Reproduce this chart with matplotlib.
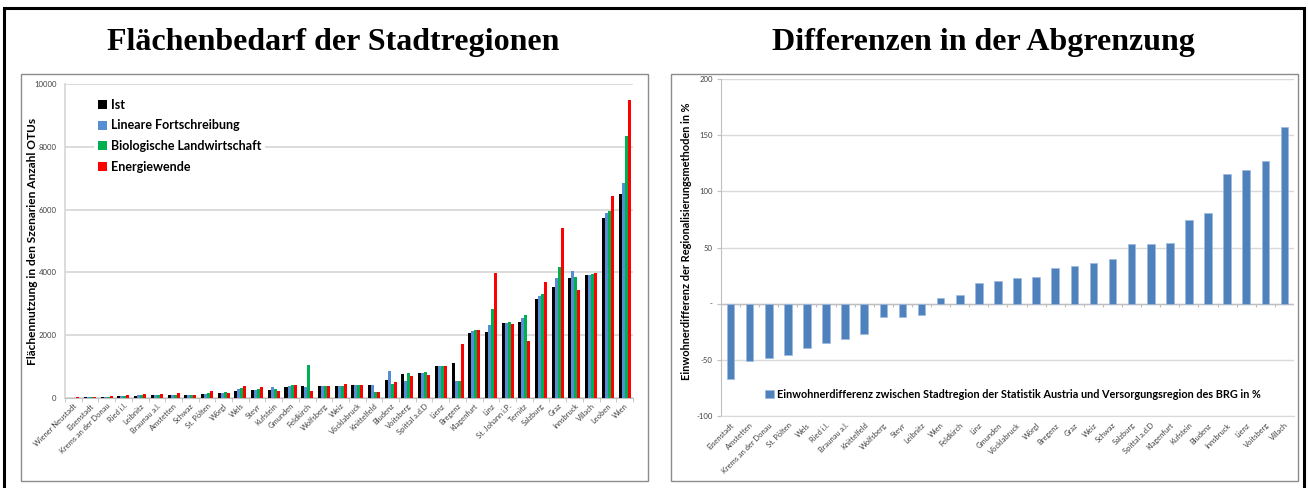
import matplotlib.pyplot as plt
from matplotlib.patches import Rectangle
import numpy as np

# --- linkes Diagramm: Flächenbedarf ---
staedte = ['Wiener Neustadt', 'Eisenstadt', 'Krems an der Donau', 'Ried i.I.', 'Leibnitz',
           'Braunau a.I.', 'Amstetten', 'Schwaz', 'St. Pölten', 'Wörgl', 'Wels', 'Steyr',
           'Kufstein', 'Gmunden', 'Feldkirch', 'Wolfsberg', 'Weiz', 'Vöcklabruck',
           'Knittelfeld', 'Bludenz', 'Voitsberg', 'Spittal a.d.D', 'Lienz', 'Bregenz',
           'Klagenfurt', 'Linz', 'St. Johann i.P.', 'Ternitz', 'Salzburg', 'Graz',
           'Innsbruck', 'Villach', 'Leoben', 'Wien']
ist = [15, 35, 40, 70, 80, 100, 100, 110, 130, 170, 230, 240, 260, 350, 370, 370, 370,
       400, 410, 580, 770, 790, 1030, 1110, 2085, 2115, 2400, 2420, 3140, 3545, 3810,
       3925, 5745, 6490]
linear = [15, 35, 40, 70, 85, 100, 100, 110, 130, 170, 285, 250, 340, 380, 340, 370, 370,
          400, 410, 870, 550, 790, 1030, 550, 2140, 2330, 2380, 2560, 3240, 3810, 4050,
          3925, 5895, 6860]
bio = [15, 35, 45, 80, 90, 110, 110, 110, 160, 190, 330, 300, 290, 410, 1060, 370, 380,
       400, 190, 455, 790, 825, 1005, 550, 2160, 2825, 2420, 2655, 3310, 4180, 3840,
       3935, 5970, 8330]
energie = [20, 40, 60, 100, 120, 120, 150, 100, 210, 150, 380, 350, 230, 410, 230, 380,
           455, 420, 190, 510, 710, 720, 1030, 1715, 2160, 3970, 2370, 1830, 3680, 5410,
           3430, 3970, 6445, 9480]
serien = ['Ist', 'Lineare Fortschreibung', 'Biologische Landwirtschaft', 'Energiewende']
farben = ['#000000', '#558ED5', '#00B050', '#FF0000']

# --- rechtes Diagramm: Differenzen ---
orte = ['Eisenstadt', 'Amstetten', 'Krems an der Donau', 'St. Pölten', 'Wels', 'Ried i.I.',
        'Braunau a.I.', 'Knittelfeld', 'Wolfsberg', 'Steyr', 'Leibnitz', 'Wien',
        'Feldkirch', 'Linz', 'Gmunden', 'Vöcklabruck', 'Wörgl', 'Bregenz', 'Graz', 'Weiz',
        'Schwaz', 'Salzburg', 'Spittal a.d.D', 'Klagenfurt', 'Kufstein', 'Bludenz',
        'Innsbruck', 'Lienz', 'Voitsberg', 'Villach']
differenz = [-67, -51, -48, -45.5, -39.5, -35, -31.5, -27, -11.5, -11.5, -10.5, 4.7, 7.6,
             18, 20.5, 23, 23.5, 31.5, 33.5, 36, 39.5, 53, 53, 54, 74.5, 81, 115, 119,
             127, 157.5]

plt.rcParams['font.family'] = ['Lato', 'DejaVu Sans']

fig = plt.figure(figsize=(13.08, 4.88), dpi=100)

# Rahmen
fig.add_artist(Rectangle((0.003, -0.02), 0.994, 1.004, transform=fig.transFigure,
                         fill=False, edgecolor='black', linewidth=2.2))
for x0 in (0.0161, 0.513):
    fig.add_artist(Rectangle((x0, 0.0143), 0.4795, 0.834, transform=fig.transFigure,
                             fill=False, edgecolor='#8c8c8c', linewidth=1.0))

fig.text(0.255, 0.912, 'Flächenbedarf der Stadtregionen', ha='center', va='center',
         fontsize=23, fontweight='bold', family='Liberation Serif')
fig.text(0.752, 0.912, 'Differenzen in der Abgrenzung', ha='center', va='center',
         fontsize=23, fontweight='bold', family='Liberation Serif')

grid_col = '#d9d9d9'

# linkes Diagramm
ax1 = fig.add_axes([0.0497, 0.1844, 0.4342, 0.6434])
x = np.arange(len(staedte))
w = 0.18
for i, (werte, name, col) in enumerate(zip([ist, linear, bio, energie], serien, farben)):
    ax1.bar(x + (i - 1.5) * w, werte, width=w, color=col, label=name, zorder=3)
ax1.set_xlim(-0.5, len(staedte) - 0.5)
ax1.set_ylim(0, 10000)
ax1.set_yticks(range(0, 10001, 2000))
ax1.grid(axis='y', color=grid_col, linewidth=1.3, zorder=0)
ax1.set_xticks(x)
ax1.set_xticklabels(staedte, rotation=45, ha='right', rotation_mode='anchor', fontsize=5.4,
                    color='#404040')
ax1.tick_params(axis='x', length=0, pad=3)
ax1.set_xticks(np.arange(-0.5, len(staedte), 1), minor=True)
ax1.tick_params(axis='x', which='minor', length=3, color='#bfbfbf')
ax1.tick_params(axis='y', labelsize=5.6, labelcolor='#404040', length=0, pad=6)
for s in ['top', 'right']:
    ax1.spines[s].set_visible(False)
ax1.spines['left'].set_color(grid_col)
ax1.spines['left'].set_linewidth(1.3)
ax1.spines['bottom'].set_color('#bfbfbf')
ax1.set_ylabel('Flächennutzung in den Szenarien Anzahl OTUs', fontsize=8.6,
               fontweight='bold')
ax1.yaxis.set_label_coords(-0.048, 0.5)
leg1 = ax1.legend(loc='upper left', bbox_to_anchor=(0.04, 0.985), frameon=True,
                  facecolor='white', edgecolor='none', framealpha=1,
                  handlelength=0.75, handleheight=0.75, handletextpad=0.3,
                  labelspacing=0.7, prop={'size': 9, 'weight': 'bold'}, borderpad=0.3)
leg1.set_zorder(5)

# rechtes Diagramm
ax2 = fig.add_axes([0.5512, 0.1475, 0.4381, 0.6906])
x2 = np.arange(len(orte))
ax2.bar(x2, differenz, width=0.4, color='#4F81BD', edgecolor='#9dbbe0', linewidth=0.5,
        zorder=3,
        label='Einwohnerdifferenz zwischen Stadtregion der Statistik Austria und '
              'Versorgungsregion des BRG in %')
ax2.set_xlim(-0.5, len(orte) - 0.5)
ax2.set_ylim(-100, 200)
ax2.set_yticks(range(-100, 201, 50))
ax2.set_yticklabels(['-100', '-50', '-', '50', '100', '150', '200'])
ax2.grid(axis='y', color=grid_col, linewidth=1.0, zorder=0)
ax2.axhline(0, color='#bfbfbf', linewidth=1.0, zorder=2)
ax2.vlines(np.arange(-0.5, len(orte), 1), -3, 0, color='#bfbfbf', linewidth=0.8, zorder=2)
ax2.set_xticks(x2)
ax2.set_xticklabels(orte, rotation=45, ha='right', rotation_mode='anchor', fontsize=5.4,
                    color='#404040')
ax2.tick_params(axis='x', length=0, pad=4)
ax2.tick_params(axis='y', labelsize=5.6, labelcolor='#404040', length=3, color='#bfbfbf',
                pad=3)
for s in ['top', 'right']:
    ax2.spines[s].set_visible(False)
ax2.spines['left'].set_color('#bfbfbf')
ax2.spines['bottom'].set_color(grid_col)
ax2.set_ylabel('Einwohnerdifferenz der Regionalisierungsmethoden in %', fontsize=7.9,
               fontweight='bold')
ax2.yaxis.set_label_coords(-0.051, 0.52)
ax2.legend(loc='lower left', bbox_to_anchor=(0.06, 0.02), frameon=False,
           handlelength=0.8, handleheight=0.8, handletextpad=0.3,
           prop={'size': 7.8, 'weight': 'bold'})

fig.savefig('out.png', dpi=100)
